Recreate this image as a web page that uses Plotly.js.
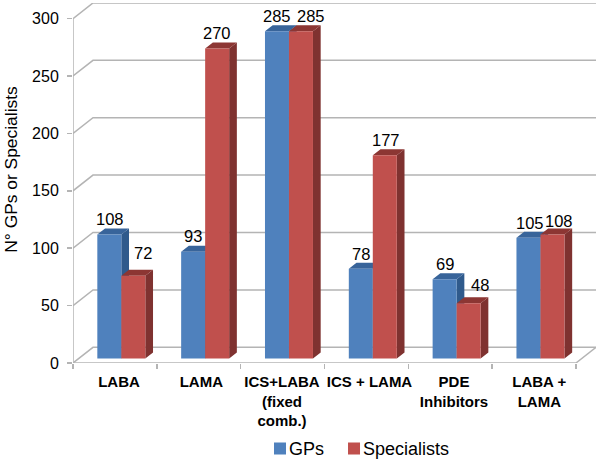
<!DOCTYPE html>
<html><head><meta charset="utf-8">
<script src="https://cdn.plot.ly/plotly-3.0.1.min.js"></script>
<style>html,body{margin:0;padding:0;background:#fff}#c{width:600px;height:460px}</style>
</head><body><div id="c"></div>
<script>
var categories = ['LABA','LAMA','ICS+LABA<br>(fixed<br>comb.)','ICS + LAMA','PDE<br>Inhibitors','LABA +<br>LAMA'];
var gps = [108,93,285,78,69,105];
var specialists = [72,270,285,177,48,108];
var yTicks = [0,50,100,150,200,250,300];
// label nudges in pixels (x, y) relative to the top-centre of each front face
var gpShiftX = [1,0,0,0,0,2];
var gpShiftY = [15,15.5,15,15,15,15];
var spShiftX = [10,0,10,1,11,7];
var spShiftY = [23,15,15,15,18,13];
var tickCentres = [119,201.3,282,369.5,454,539.3];

var PXX = 83.83, PXY = 1.148, LEFT = 73;
var XMAX = 523/PXX, YMAX = 360/PXY;
var wallX = 20/PXX, wallY = 15.7/PXY;
var depX = 7.7/PXX, depY = 6/PXY;
var barW = 24/PXX, barOff = 6.4/PXX, base = 4;
var GRID = '#b4b4b4';

function faces(vals, sign){
  var sx=[],sy=[],tx=[],ty=[],cx=[];
  vals.forEach(function(v,i){
    var c = i+0.5+barOff+sign*barW/2, l=c-barW/2, r=c+barW/2, b=base, t=v+base;
    cx.push(c);
    sx.push(r,r+depX,r+depX,r,r,null); sy.push(b,b+depY,t+depY,t,b,null);
    tx.push(l,l+depX,r+depX,r,l,null); ty.push(t,t+depY,t+depY,t,t,null);
  });
  return {sx:sx,sy:sy,tx:tx,ty:ty,cx:cx};
}
function poly(x,y,color,z){
  return {type:'scatter',mode:'lines',x:x,y:y,fill:'toself',fillcolor:color,
    line:{width:0,color:color},hoverinfo:'skip',showlegend:false,zorder:z,cliponaxis:false};
}
var g = faces(gps,-1), s = faces(specialists,1);

var gx=[],gy=[];
yTicks.forEach(function(v){
  gx.push(0,wallX,XMAX,null); gy.push(v,v+wallY,v+wallY,null);
});
gx.push(XMAX,6); gy.push(wallY,0);
var axisLine = {type:'scatter',mode:'lines',x:[0,0,null,0,6],y:[300,0,null,0,0],
  line:{color:GRID,width:1.5},hoverinfo:'skip',showlegend:false,zorder:1,cliponaxis:false};
var grid = {type:'scatter',mode:'lines',x:gx,y:gy,connectgaps:false,
  line:{color:GRID,width:1.5},hoverinfo:'skip',showlegend:false,zorder:0,cliponaxis:false};

var traces = [grid,axisLine,
  poly(g.sx,g.sy,'#2f5a8c',2), poly(g.tx,g.ty,'#38649a',2),
  {type:'bar',name:'GPs',x:g.cx,y:gps,base:base,width:barW,marker:{color:'#4f81bd'},zorder:3},
  poly(s.sx,s.sy,'#7f3230',4), poly(s.tx,s.ty,'#8c3633',4),
  {type:'bar',name:'Specialists',x:s.cx,y:specialists,base:base,width:barW,marker:{color:'#c0504d'},zorder:5}
];

var notes = [];
function addLabels(vals,cx,sx,sy){
  vals.forEach(function(v,i){
    notes.push({x:cx[i],y:v+base,xref:'x',yref:'y',text:String(v),showarrow:false,
      xanchor:'center',yanchor:'middle',xshift:sx[i],yshift:sy[i],
      font:{family:'Liberation Sans',size:16.5,color:'#000'}});
  });
}
addLabels(gps,g.cx,gpShiftX,gpShiftY);
addLabels(specialists,s.cx,spShiftX,spShiftY);
notes.push({xref:'paper',yref:'paper',x:-62/523,y:(363.3-170)/360,text:'N° GPs or Specialists',
  textangle:-90,showarrow:false,xanchor:'center',yanchor:'middle',
  font:{family:'Liberation Sans',size:17.4,color:'#000'}});

var layout = {
  width:600,height:460,paper_bgcolor:'#fff',plot_bgcolor:'#fff',
  margin:{l:LEFT,r:4,t:3.3,b:96.7,autoexpand:false},
  barmode:'overlay',
  xaxis:{range:[0,XMAX],showgrid:false,zeroline:false,showline:false,
    tickmode:'array',tickvals:tickCentres.map(function(p){return (p-LEFT)/PXX;}),ticktext:categories,
    ticks:'',ticklabelstandoff:8,
    tickfont:{family:'Liberation Sans',size:15,color:'#000',weight:'bold'},
    minor:{tickmode:'array',tickvals:[0,1,2,3,4,5,6],ticks:'outside',ticklen:5,tickcolor:GRID,tickwidth:1.5,showgrid:false}},
  yaxis:{range:[0,YMAX],showgrid:false,zeroline:false,showline:false,
    tickmode:'array',tickvals:yTicks,ticks:'outside',ticklen:5,tickcolor:GRID,tickwidth:1.5,ticklabelstandoff:5,
    tickfont:{family:'Liberation Sans',size:16,color:'#000'}},
  legend:{orientation:'h',x:(259-LEFT-10)/523,xanchor:'left',xref:'paper',y:-(449-363.3)/360,yanchor:'middle',
    font:{family:'Liberation Sans',size:18,color:'#000'},bgcolor:'rgba(0,0,0,0)'},
  annotations:notes,showlegend:true
};
Plotly.newPlot('c',traces,layout,{displayModeBar:false,staticPlot:true}).then(function(){
  document.querySelectorAll('#c .legend .legendsymbols').forEach(function(n){
    n.setAttribute('transform','translate(11,0)');
  });
  var items = document.querySelectorAll('#c .legend .traces');
  var second = items[items.length-1];
  var m = /translate\(([-\d.]+)[ ,]+([-\d.]+)\)/.exec(second.getAttribute('transform')||'');
  if(m) second.setAttribute('transform','translate('+(parseFloat(m[1])-6)+','+m[2]+')');
});
</script></body></html>
